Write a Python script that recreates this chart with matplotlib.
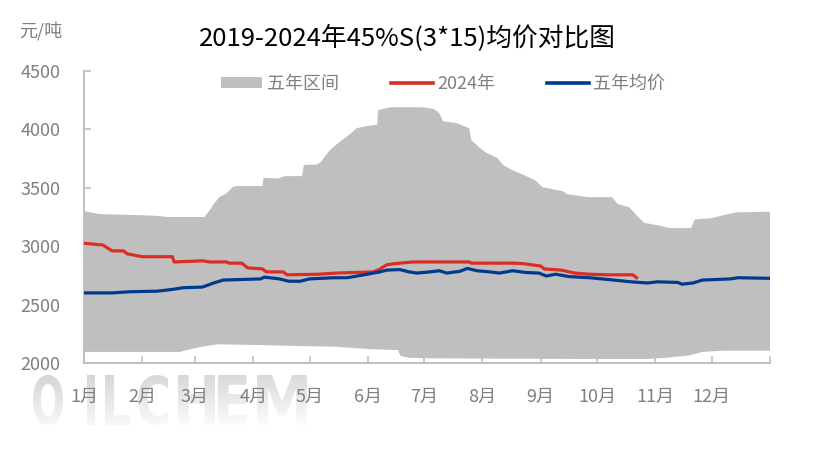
import matplotlib
matplotlib.use('Agg')
import matplotlib.pyplot as plt
import numpy as np
from matplotlib.patches import Patch, PathPatch
from matplotlib.lines import Line2D
from matplotlib.textpath import TextPath
from matplotlib.font_manager import FontProperties
from matplotlib.transforms import Affine2D
from matplotlib.path import Path

plt.rcParams['font.family'] = ['Noto Sans CJK SC', 'DejaVu Sans']

title = "2019-2024年45%S(3*15)均价对比图"
unit = "元/吨"
month_labels = [f"{m}月" for m in range(1, 13)]
month_starts = [0, 31, 59, 90, 120, 151, 181, 212, 243, 273, 304, 334, 365]
yticks = [2000, 2500, 3000, 3500, 4000, 4500]
legend_labels = ["五年区间", "2024年", "五年均价"]
watermark = "OILCHEM"

# five-year range, upper bound (day of year, price)
upper_days = [0, 8, 31, 39, 44, 64, 67, 69, 72, 76, 79, 81, 95, 95.5, 103, 107, 116, 117,
              124, 126, 128, 131, 135, 142, 145, 151, 156, 156.5, 163, 180, 186, 189, 191,
              198, 205, 206, 210, 214, 220, 223, 228, 234, 240, 244, 255, 257, 268, 281,
              284, 290, 294, 298, 305, 312, 323, 325, 334, 340, 347, 365]
upper_vals = [3300, 3275, 3265, 3260, 3250, 3250, 3310, 3360, 3420, 3455, 3505, 3515, 3515,
              3585, 3580, 3600, 3600, 3695, 3700, 3720, 3765, 3825, 3880, 3965, 4010, 4030,
              4040, 4165, 4190, 4190, 4175, 4140, 4070, 4055, 4010, 3910, 3850, 3800, 3755,
              3695, 3650, 3610, 3565, 3505, 3470, 3445, 3420, 3420, 3360, 3335, 3265, 3200,
              3180, 3155, 3155, 3230, 3240, 3265, 3290, 3295]

# five-year range, lower bound
lower_days = [0, 51, 61, 71, 90, 115, 133, 142, 151, 167, 168.5, 173, 185, 260, 300, 310,
              322, 329, 339, 365]
lower_vals = [2095, 2095, 2135, 2160, 2155, 2145, 2140, 2130, 2120, 2110, 2060, 2045, 2040,
              2035, 2035, 2045, 2065, 2095, 2105, 2105]

# 2024
y2024_days = [0, 10, 15, 21, 23, 31, 47, 48, 63, 67, 76, 77, 84, 87, 95, 97, 106, 108, 125,
              134, 154, 157, 161, 165, 175, 205, 206, 229, 234, 243, 245, 254, 261, 269, 279,
              292, 294]
y2024_vals = [3025, 3010, 2960, 2960, 2935, 2910, 2910, 2865, 2875, 2865, 2865, 2855, 2855,
              2815, 2805, 2780, 2780, 2755, 2760, 2770, 2780, 2800, 2840, 2850, 2865, 2865,
              2855, 2855, 2850, 2830, 2805, 2795, 2770, 2760, 2755, 2755, 2730]

# five-year average
avg_days = [0, 15, 24, 39, 47, 53, 63, 69, 74, 94, 96, 104, 109, 115, 120, 133, 140, 149, 154,
            157.5, 161, 168, 173, 177, 184, 189, 193, 200, 204, 209, 216, 221, 228, 235, 242,
            246, 251, 258, 269, 282, 291, 300, 305, 316, 318, 324, 329, 344, 348, 365]
avg_vals = [2600, 2600, 2610, 2615, 2630, 2645, 2650, 2685, 2710, 2720, 2735, 2720, 2700, 2700,
            2720, 2730, 2730, 2755, 2770, 2780, 2795, 2800, 2780, 2770, 2780, 2790, 2770, 2785,
            2810, 2790, 2780, 2770, 2790, 2775, 2770, 2745, 2760, 2740, 2730, 2710, 2695, 2685,
            2695, 2690, 2675, 2685, 2710, 2720, 2730, 2725]

W, H = 815, 461
fig = plt.figure(figsize=(W / 100, H / 100), dpi=100)

# watermark (each letter fitted to its box, pixel coordinates)
wm = fig.add_axes([0, 0, 1, 1], zorder=0)
wm.set_xlim(0, W)
wm.set_ylim(H, 0)
wm.axis('off')
letter_boxes = [(33, 63), (87, 95), (105, 130), (138, 168), (178, 215), (218, 247), (257, 307)]
wy0, wy1 = 375, 425
fp = FontProperties(family='DejaVu Sans', weight='bold')
paths = []
for ch, (lx0, lx1) in zip(watermark, letter_boxes):
    tp = TextPath((0, 0), ch, size=100, prop=fp)
    bb = tp.get_extents()
    tr = Affine2D().translate(-bb.x0, -bb.y0).scale((lx1 - lx0) / bb.width,
                                                     -(wy1 - wy0) / bb.height).translate(lx0, wy1)
    paths.append(tr.transform_path(tp))
wpath = Path.make_compound_path(*paths)
wpatch = PathPatch(wpath, facecolor='none', edgecolor='none', transform=wm.transData)
wm.add_patch(wpatch)
gh, gw = 50, 280
ii, jj = np.mgrid[0:gh, 0:gw]
t = 0.85 * (ii / gh) + 0.15 * (jj / gw)
grad = 0.83 + 0.16 * t
im = wm.imshow(grad, extent=[30, 310, wy1, wy0], cmap='gray', vmin=0, vmax=1,
               aspect='auto', interpolation='bilinear')
im.set_clip_path(wpatch)

ax = fig.add_axes([84 / W, 1 - 363 / H, (770 - 84) / W, (363 - 71) / H], zorder=1)
ax.set_facecolor('none')

band_color = '#BFBFBF'
red = '#DD2C21'
blue = '#013A8C'

ax.fill(np.r_[upper_days, lower_days[::-1]], np.r_[upper_vals, lower_vals[::-1]],
        color=band_color, lw=0, zorder=1)
ax.plot(y2024_days, y2024_vals, color=red, lw=2.3, zorder=3)
ax.plot(avg_days, avg_vals, color=blue, lw=2.3, zorder=4)

ax.set_xlim(0, 365)
ax.set_ylim(2000, 4500)
ax.set_yticks(yticks)
ax.set_xticks(month_starts)
ax.set_xticklabels(month_labels + [""])

for s in ['top', 'right']:
    ax.spines[s].set_visible(False)
for s in ['left', 'bottom']:
    ax.spines[s].set_color('#BFBFBF')
    ax.spines[s].set_linewidth(1.4)

tick_color = '#7F7F7F'
ax.tick_params(axis='both', direction='in', length=5, width=1.2, color='#BFBFBF',
               labelcolor=tick_color, labelsize=13)
ax.tick_params(axis='y', pad=17)
ax.tick_params(axis='x', pad=18)

fig.text(407 / W, 1 - 38 / H, title, ha='center', va='center', fontsize=18.5, color='black')
fig.text(41 / W, 1 - 31 / H, unit, ha='center', va='center', fontsize=13, color=tick_color)

handles = [Patch(facecolor=band_color, edgecolor='none'),
           Line2D([], [], color=red, lw=2.6),
           Line2D([], [], color=blue, lw=2.6)]
leg = fig.legend(handles, legend_labels, loc='center', bbox_to_anchor=(443 / W, 1 - 84 / H),
                 ncol=3, frameon=False, fontsize=13, handlelength=2.3, handleheight=0.6,
                 handletextpad=0.25, columnspacing=2.9, labelcolor=tick_color,
                 borderpad=0, borderaxespad=0)

fig.savefig('out.png', dpi=100)
